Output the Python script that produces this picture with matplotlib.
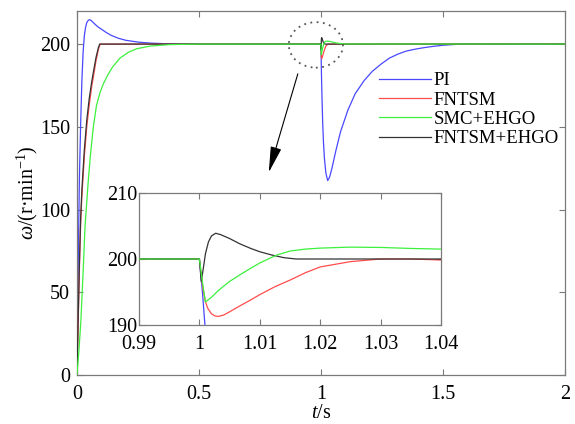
import matplotlib
matplotlib.use("Agg")
import matplotlib.pyplot as plt
from matplotlib.patches import Ellipse
from matplotlib.lines import Line2D

# ---------------- data ----------------
labels = ["PI", "FNTSM", "SMC+EHGO", "FNTSM+EHGO"]

t_pi = [0, 0.003, 0.006, 0.01, 0.015, 0.02, 0.025, 0.03, 0.035, 0.04, 0.047, 0.053,
        0.06, 0.07, 0.085, 0.1, 0.12, 0.14, 0.17, 0.2, 0.25, 0.3, 0.35, 0.4, 0.5,
        1.0, 1.0005, 1.001, 1.002, 1.004, 1.007, 1.01, 1.014, 1.02, 1.0275, 1.035,
        1.045, 1.06, 1.08, 1.11, 1.14, 1.177, 1.21, 1.247, 1.28, 1.316, 1.35, 1.385,
        1.42, 1.453, 1.5, 1.55, 1.6, 2.0]
w_pi = [0, 40, 80, 120, 152, 178, 195, 205, 210, 213, 214.5, 214.7,
        214, 212.5, 210.5, 209, 207, 205.3, 203.5, 202.3, 201.2, 200.6, 200.3, 200.1, 200,
        200, 195, 189, 181, 168, 152, 141, 131, 122, 117.5, 119.5,
        125, 135, 147, 160, 170, 178, 183.5, 188, 191.5, 194, 195.8, 196.9,
        197.8, 198.5, 199.3, 199.8, 200, 200]

t_fntsm = [0, 0.005, 0.01, 0.015, 0.02, 0.03, 0.04, 0.05, 0.06, 0.067, 0.078, 0.088, 0.095,
           1.0, 1.0003, 1.0006, 1.001, 1.0014, 1.002, 1.0025, 1.0031, 1.004, 1.005, 1.0067,
           1.0085, 1.01, 1.0125, 1.015, 1.0175, 1.02, 1.025, 1.03, 1.035, 1.04, 1.05, 2.0]
w_fntsm = [0, 33, 65, 92, 108, 132, 150, 163, 174, 180, 190, 197, 200,
           200, 197.5, 195.4, 193.5, 192.5, 191.7, 191.4, 191.3, 191.5, 192, 192.9,
           193.8, 194.6, 195.8, 196.8, 197.9, 198.8, 199.6, 200, 200, 199.85, 200, 200]

t_smc = [0, 0.008, 0.016, 0.025, 0.033, 0.045, 0.055, 0.067, 0.08, 0.095, 0.108, 0.125,
         0.145, 0.176, 0.21, 0.245, 0.3, 0.38, 0.5,
         1.0, 1.0005, 1.001, 1.002, 1.003, 1.0039, 1.005, 1.0067, 1.0085, 1.01, 1.0128,
         1.015, 1.0175, 1.02, 1.025, 1.03, 1.035, 1.04, 1.05, 1.06, 1.07, 1.08, 1.1, 2.0]
w_smc = [0, 15, 33, 62, 90, 115, 133, 150, 163, 171, 176, 181,
         186, 191.5, 195, 197.2, 198.8, 199.7, 200,
         200, 196.5, 193.5, 194.2, 195.1, 195.8, 196.6, 197.6, 198.6, 199.4, 200.6,
         201.2, 201.5, 201.65, 201.8, 201.75, 201.6, 201.5, 201.1, 200.8, 200.5, 200.3, 200.05, 200]

t_fe = [0, 0.005, 0.01, 0.015, 0.02, 0.03, 0.04, 0.05, 0.06, 0.067, 0.078, 0.088, 0.093,
        1.0, 1.0003, 1.0006, 1.001, 1.0015, 1.002, 1.0027, 1.0035, 1.005, 1.0067,
        1.0085, 1.01, 1.012, 1.014, 1.016, 2.0]
w_fe = [0, 35, 68, 95, 112, 136, 154, 167, 177, 183, 192, 198, 200,
        200, 196.6, 198.3, 200.8, 202.6, 203.5, 203.9, 203.7, 203.1, 202.3,
        201.6, 201.1, 200.6, 200.2, 200, 200]

main_xticks = [0, 0.5, 1, 1.5, 2]
main_xticklabels = ["0", "0.5", "1", "1.5", "2"]
main_yticks = [0, 50, 100, 150, 200]
inset_xticks = [0.99, 1.0, 1.01, 1.02, 1.03, 1.04]
inset_xticklabels = ["0.99", "1", "1.01", "1.02", "1.03", "1.04"]
inset_yticks = [190, 200, 210]

# ---------------- style ----------------
plt.rcParams['font.family'] = ['Liberation Serif', 'DejaVu Serif']
plt.rcParams['mathtext.fontset'] = 'custom'
plt.rcParams['mathtext.rm'] = 'Liberation Serif'
plt.rcParams['mathtext.it'] = 'Liberation Serif:italic'

c_pi = '#4848ff'
c_fn = '#ff4c4c'
c_smc = '#3cf03c'
c_fe = '#333333'
spine_c = '#7a7a7a'
lw = 0.9
fs_tick = 14.5
fs_leg = 13.5

fig = plt.figure(figsize=(5.75, 4.24), dpi=100)
ax = fig.add_axes([77/575, 49/424, 488/575, 364/424])

series = [(t_pi, w_pi, c_pi, 2), (t_fntsm, w_fntsm, c_fn, 3),
          (t_fe, w_fe, c_fe, 4), (t_smc, w_smc, c_smc, 5)]
for t, w, c, z in series:
    ax.plot(t, w, color=c, lw=lw, zorder=z)

ax.set_xlim(0, 2)
ax.set_ylim(0, 220)
ax.set_xticks(main_xticks)
ax.set_xticklabels(main_xticklabels)
ax.set_yticks(main_yticks)

def style_axes(a, pad_x=4, pad_y=5):
    for s in a.spines.values():
        s.set_color(spine_c)
        s.set_linewidth(0.9)
    a.tick_params(direction='in', length=4, width=0.8, color=spine_c,
                  top=True, right=True, labelsize=fs_tick, labelcolor='black')
    a.tick_params(axis='x', pad=pad_x)
    a.tick_params(axis='y', pad=pad_y)

style_axes(ax, pad_x=7, pad_y=5)
ax.set_xlabel(r'$t$/s', fontsize=fs_tick, labelpad=0)
ax.set_ylabel(r'$\omega$/(r·min$^{-1}$)', fontsize=fs_tick)
ax.yaxis.set_label_coords(-0.075, 0.5)

# legend
handles = [Line2D([], [], color=c_pi, lw=lw), Line2D([], [], color=c_fn, lw=lw),
           Line2D([], [], color=c_smc, lw=lw), Line2D([], [], color=c_fe, lw=lw)]
ax.legend(handles, labels, loc='upper left', bbox_to_anchor=(0.619, 0.832),
          frameon=False, fontsize=fs_leg, handlelength=2.75, handletextpad=0.15,
          labelspacing=0.12, borderpad=0, borderaxespad=0)

# dotted ellipse and arrow
ell = Ellipse((0.979, 199.5), width=0.222, height=27.5, fill=False,
              edgecolor='#555555', linestyle=(0, (1, 2.5)), lw=1.3, zorder=6)
ax.add_patch(ell)
ax.annotate('', xy=(0.786, 122.5), xytext=(0.905, 182),
            arrowprops=dict(arrowstyle='-|>,head_length=0.8,head_width=0.17',
                            mutation_scale=20, color='black', lw=0.8,
                            shrinkA=0, shrinkB=0), zorder=6)

# inset
ins = fig.add_axes([139/575, 99/424, 302/575, 132/424])
ins.set_zorder(10)
ins.set_facecolor('white')
for t, w, c, z in series:
    ins.plot(t, w, color=c, lw=lw, zorder=z)
ins.set_xlim(0.99, 1.04)
ins.set_ylim(190, 210)
ins.set_xticks(inset_xticks)
ins.set_xticklabels(inset_xticklabels)
ins.set_yticks(inset_yticks)
style_axes(ins, pad_x=7, pad_y=1.5)

fig.savefig('out.png', dpi=100)
